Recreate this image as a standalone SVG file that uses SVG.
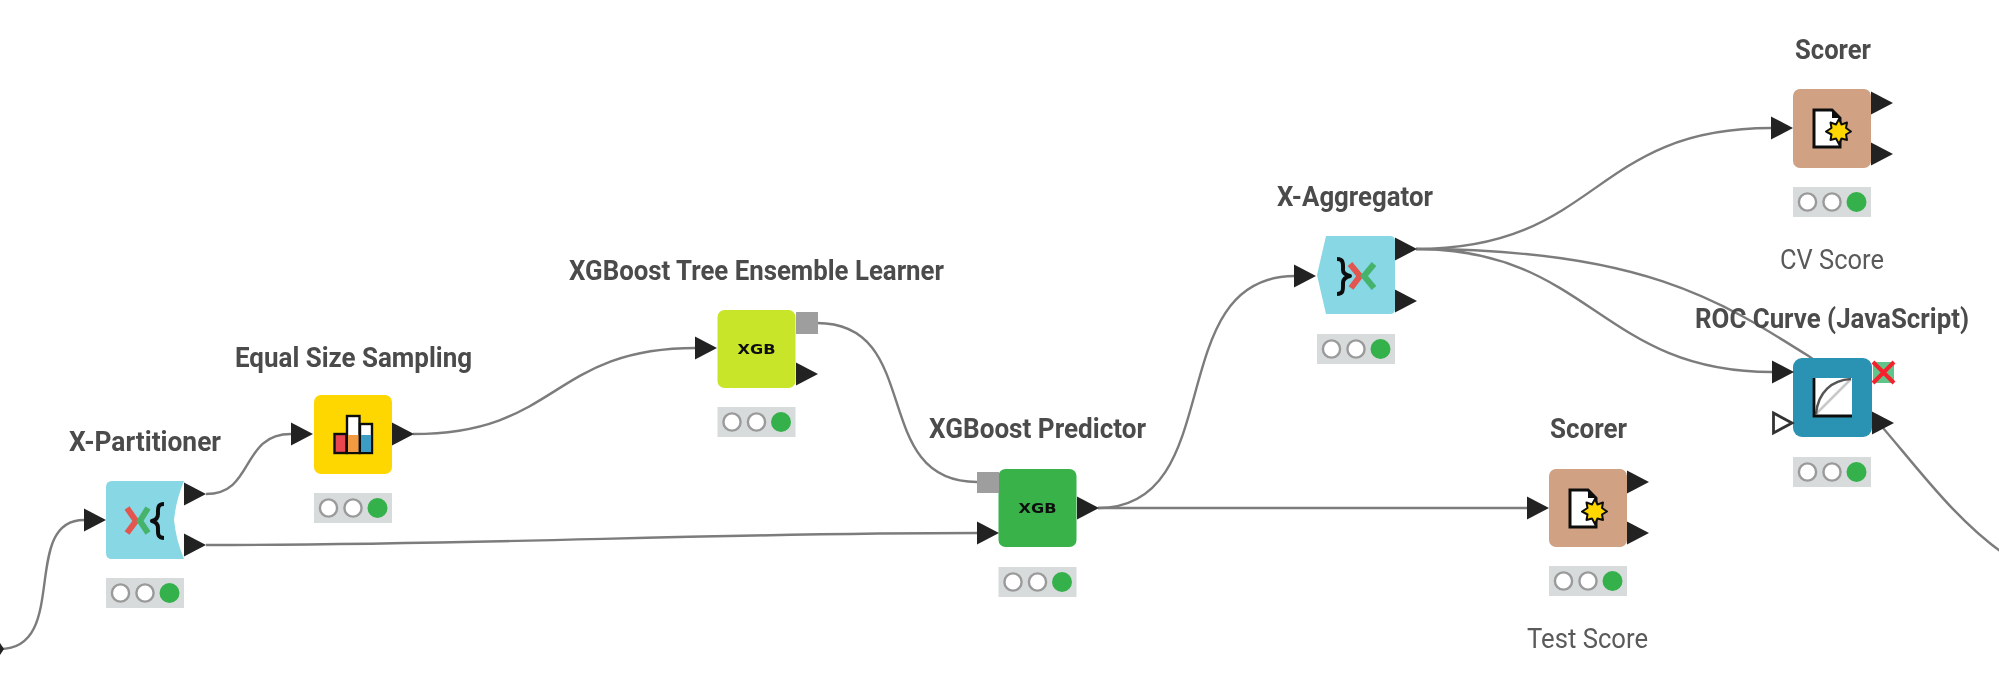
<svg xmlns="http://www.w3.org/2000/svg" xmlns:xlink="http://www.w3.org/1999/xlink" width="1999" height="675" viewBox="0 0 1999 675">
<style>
.lbl{font-family:"Roboto","Liberation Sans",sans-serif;font-weight:700;font-size:27px;fill:#4b4b4b}
.cmt{font-family:"Roboto","Liberation Sans",sans-serif;font-weight:400;font-size:27px;fill:#5a5a5a}
.xgb{font-family:"DejaVu Sans",sans-serif;font-weight:700;font-size:14px;fill:#111;text-anchor:middle}
.body{stroke:none}
.cy{fill:#87d7e5}
.tan{fill:#d0a283}
.conn path{fill:none;stroke:#7c7c7c;stroke-width:2.4}
.port{fill:#222}
.grey{fill:#9e9e9e}
.red{fill:none;stroke:#e2574f;stroke-width:6}
.grn{fill:none;stroke:#45b36b;stroke-width:6}
.brace{fill:none;stroke:#111;stroke-width:4;stroke-linejoin:round}
</style>
<defs>
<filter id="soft" filterUnits="userSpaceOnUse" x="0" y="0" width="1999" height="675"><feGaussianBlur stdDeviation="0.7"/></filter>
<polygon id="tri" class="port" points="0,-11.500 22,0 0,11.500"/>
<g id="status">
<rect width="78" height="30" fill="#d7dbdb"/>
<circle cx="14.500" cy="15" r="8.600" fill="#fff" stroke="#9a9a9a" stroke-width="2.400"/>
<circle cx="39" cy="15" r="8.600" fill="#fff" stroke="#9a9a9a" stroke-width="2.400"/>
<circle cx="63.500" cy="15" r="10" fill="#35b14b"/>
</g>
<g id="scoreIcon">
<path d="M21,21 H39 L47,29 V58 H21 Z" fill="#fff" stroke="#111" stroke-width="3"/>
<path d="M39,21 L47,29 H39 Z" fill="#111"/>
<polygon points="46,30 48.500,35.500 54,33.500 53,39 58,42.500 53,45.500 54,51 48.500,49.500 46,55 43,49.500 37.500,51 38.500,45.500 33,42.500 38.500,39 37.500,33.500 43,35.500" fill="#ffd700" stroke="#111" stroke-width="2" stroke-linejoin="round"/>
</g>
</defs>
<rect width="1999" height="675" fill="#fff"/>
<g filter="url(#soft)">
<g id="connectors" class="conn">
<path d="M0,649 C70,649 20,520 84,520"/>
<path d="M206,494 C255,494 240,434 291,434"/>
<path d="M413,434 C560,434 550,348 696,348"/>
<path d="M817,323 C925,323 868,482 977,482"/>
<path d="M206,545 C500,545 700,533 977,533"/>
<path d="M1098,508 C1230,508 1160,276 1295,276"/>
<path d="M1098,508 H1527"/>
<path d="M1416,249 C1600,249 1590,128 1771,128"/>
<path d="M1416,249 C1590,249 1600,372 1772,372"/>
<path d="M1416,249 C1640,249 1720,300 1810,357 C1880,405 1930,505 2010,558"/>
</g>
<polygon id="edge-port" class="port" points="0,643 4,649 0,655"/>

<g id="node-x-partitioner">
<text class="lbl" x="69" y="451" textLength="152" lengthAdjust="spacingAndGlyphs">X-Partitioner</text>
<path class="body cy" d="M112,481 H184 Q176,500 174,520 Q176,540 184,559 H112 Q106,559 106,553 V487 Q106,481 112,481 Z"/>
<path class="red" d="M127,508 L136,521 L127,533"/>
<path class="grn" d="M148,508 L140,521 L148,533"/>
<path class="brace" d="M164,504 C157,504 158,509 158,514 C158,518 156,520 152,521 C156,522 158,524 158,528 C158,533 157,538 164,538"/>
<use href="#tri" x="84" y="520"/><use href="#tri" x="184" y="494"/><use href="#tri" x="184" y="545"/>
<use href="#status" x="106" y="578"/>
</g>

<g id="node-equal-size">
<text class="lbl" x="235" y="367" textLength="237" lengthAdjust="spacingAndGlyphs">Equal Size Sampling</text>
<rect class="body" x="314" y="395" width="78" height="79" rx="7" fill="#ffd700"/>
<rect x="334.500" y="434" width="12" height="19" fill="#e8474f" stroke="#111" stroke-width="2.400"/>
<rect x="347" y="416" width="12.500" height="37" fill="#fff" stroke="#111" stroke-width="2.400"/>
<rect x="348" y="435" width="10.500" height="17" fill="#f29a3f"/>
<rect x="360" y="424" width="12" height="29" fill="#fff" stroke="#111" stroke-width="2.400"/>
<rect x="361" y="435" width="10" height="17" fill="#3a9cc4"/>
<use href="#tri" x="291" y="434"/><use href="#tri" x="392" y="434"/>
<use href="#status" x="314" y="493"/>
</g>

<g id="node-xgb-learner">
<text class="lbl" x="569" y="280" textLength="375" lengthAdjust="spacingAndGlyphs">XGBoost Tree Ensemble Learner</text>
<rect class="body" x="717.500" y="310" width="78" height="78" rx="7" fill="#c9e52b"/>
<text class="xgb" x="756.500" y="354" textLength="38" lengthAdjust="spacingAndGlyphs">XGB</text>
<use href="#tri" x="695" y="348"/>
<rect class="grey" x="796" y="312" width="22" height="22"/>
<use href="#tri" x="796" y="374"/>
<use href="#status" x="717.500" y="407"/>
</g>

<g id="node-xgb-predictor">
<text class="lbl" x="929" y="438" textLength="217" lengthAdjust="spacingAndGlyphs">XGBoost Predictor</text>
<rect class="body" x="998.500" y="469" width="78" height="78" rx="7" fill="#37b24a"/>
<text class="xgb" x="1037.500" y="513" textLength="38" lengthAdjust="spacingAndGlyphs">XGB</text>
<rect class="grey" x="977" y="472" width="22" height="21"/>
<use href="#tri" x="977" y="533"/>
<use href="#tri" x="1077" y="508"/>
<use href="#status" x="998.500" y="567"/>
</g>

<g id="node-x-aggregator">
<text class="lbl" x="1277" y="206" textLength="156" lengthAdjust="spacingAndGlyphs">X-Aggregator</text>
<path class="body cy" d="M1326,236 H1390 Q1395,236 1395,241 V309 Q1395,314 1390,314 H1326 L1317,275 Z"/>
<path class="brace" d="M1337,259 C1344,259 1343,264 1343,270 C1343,273 1346,275 1350,276 C1346,277 1343,279 1343,283 C1343,289 1344,294 1337,294"/>
<path class="red" d="M1350,264 L1360,276 L1351,288"/>
<path class="grn" d="M1374,264 L1364,276 L1374,288"/>
<use href="#tri" x="1294" y="276"/><use href="#tri" x="1395" y="249"/><use href="#tri" x="1395" y="301"/>
<use href="#status" x="1317" y="334"/>
</g>

<g id="node-scorer-test">
<text class="lbl" x="1550" y="438" textLength="77" lengthAdjust="spacingAndGlyphs">Scorer</text>
<rect class="body tan" x="1549" y="469" width="78" height="78" rx="7"/>
<use href="#scoreIcon" x="1549" y="469"/>
<use href="#tri" x="1527" y="508"/><use href="#tri" x="1627" y="482"/><use href="#tri" x="1627" y="533"/>
<use href="#status" x="1549" y="566"/>
<text class="cmt" x="1527" y="648" textLength="121" lengthAdjust="spacingAndGlyphs">Test Score</text>
</g>

<g id="node-scorer-cv">
<text class="lbl" x="1795" y="59" textLength="76" lengthAdjust="spacingAndGlyphs">Scorer</text>
<rect class="body tan" x="1793" y="89" width="78" height="79" rx="7"/>
<use href="#scoreIcon" x="1793" y="89"/>
<use href="#tri" x="1771" y="128"/><use href="#tri" x="1871" y="103"/><use href="#tri" x="1871" y="154"/>
<use href="#status" x="1793" y="187"/>
<text class="cmt" x="1780" y="269" textLength="104" lengthAdjust="spacingAndGlyphs">CV Score</text>
</g>

<g id="node-roc">
<text class="lbl" x="1695" y="328" textLength="274" lengthAdjust="spacingAndGlyphs">ROC Curve (JavaScript)</text>
<rect class="body" x="1793" y="358" width="79" height="79" rx="9" fill="#2c93b3"/>
<rect x="1813" y="378" width="39" height="39" fill="#fff"/>
<path d="M1815,415 L1851,379" stroke="#c9c9c9" stroke-width="2.500" fill="none"/>
<path d="M1816,414 C1818,392 1832,380 1851,379" stroke="#555" stroke-width="2.500" fill="none"/>
<path d="M1814,378 V416 H1852" stroke="#111" stroke-width="2.800" fill="none"/>
<rect x="1873" y="362" width="21" height="21" fill="#5fc58a"/>
<path d="M1873,362 L1894,383 M1894,362 L1873,383" stroke="#f5222d" stroke-width="4" fill="none"/>
<use href="#tri" x="1772" y="372"/>
<polygon points="1773.500,413 1792,423 1773.500,433" fill="#fff" stroke="#333" stroke-width="2.800"/>
<use href="#tri" x="1872" y="423"/>
<use href="#status" x="1793" y="457"/>
</g>
</g>
</svg>
